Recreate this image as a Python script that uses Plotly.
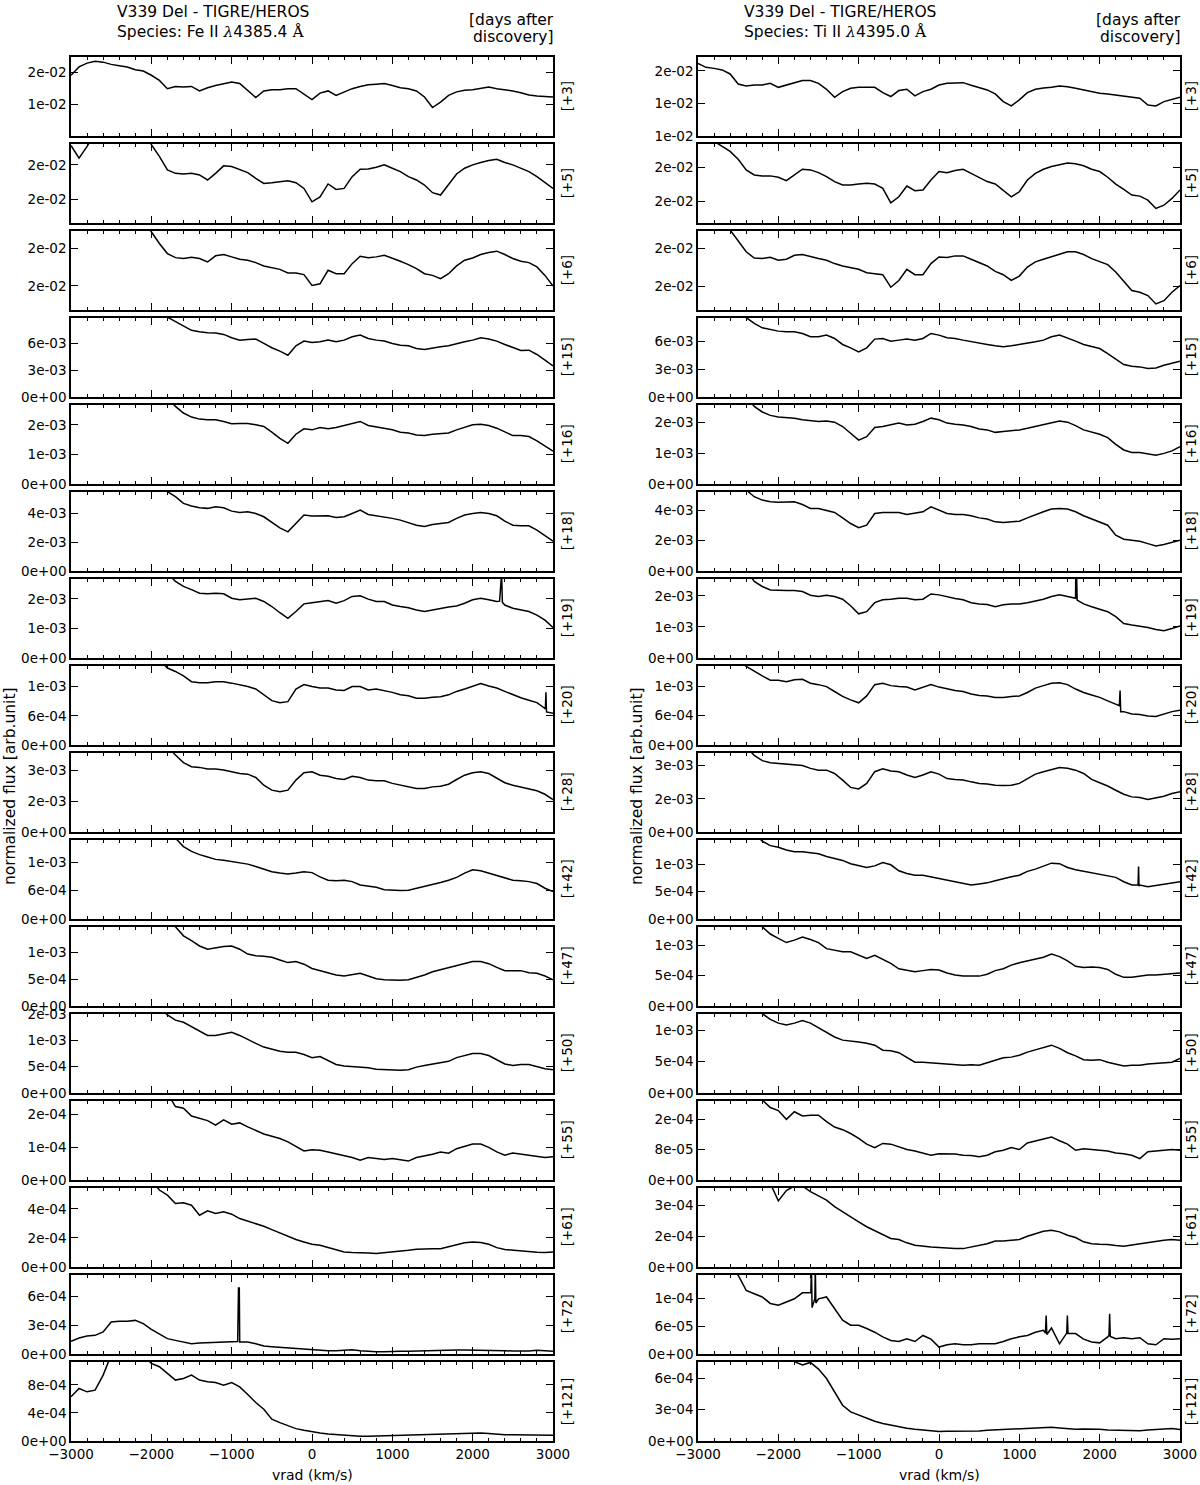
import plotly.graph_objects as go

# radial velocity grid (km/s), shared by every spectrum
VRAD = list(range(-3000, 3001, 100))
DAYS = ["[+3]", "[+5]", "[+6]", "[+15]", "[+16]", "[+18]", "[+19]", "[+20]",
        "[+28]", "[+42]", "[+47]", "[+50]", "[+55]", "[+61]", "[+72]", "[+121]"]

# ---------------- Fe II 4385.4 (left column) ----------------
FE_03 = [19.1, 21.7, 22.9, 23.5, 23.2, 22.5, 22.1, 21.7, 20.8, 20.4,
         19.1, 17.5, 14.9, 15.6, 15.4, 15.6, 14.2, 15.2, 15.9, 16.5,
         17.0, 16.5, 14.4, 12.1, 14.2, 14.6, 14.6, 14.9, 14.9, 13.3,
         11.5, 13.5, 14.2, 12.8, 13.9, 14.9, 15.6, 16.1, 16.3, 16.5,
         15.9, 15.2, 14.9, 14.2, 12.3, 9.0, 10.7, 12.8, 13.9, 14.4,
         14.6, 15.0, 15.4, 14.9, 14.6, 14.2, 13.6, 12.9, 12.6, 12.5,
         12.3]
FE_05 = [214.0, 204.9, 213.3, 223.1, 227.9, 227.9, 227.9, 227.9, 227.9, 227.9,
         214.6, 206.1, 196.4, 193.9, 193.4, 193.9, 192.7, 189.1, 193.9, 199.3,
         198.8, 196.8, 194.4, 190.3, 186.6, 187.1, 187.9, 188.6, 187.1, 183.0,
         173.3, 176.9, 186.2, 182.3, 183.0, 191.5, 196.8, 197.1, 198.3, 200.0,
         197.6, 195.1, 191.5, 189.1, 185.4, 179.9, 178.2, 185.4, 193.4, 197.6,
         200.0, 201.7, 203.2, 204.1, 201.7, 200.0, 197.6, 195.1, 191.5, 187.1,
         183.0]
FE_06 = [220, 220, 220, 220, 220, 220, 220, 220, 220, 220,
         210.9, 203.1, 196.4, 193.7, 193.1, 194.0, 193.1, 190.8, 194.9, 195.8,
         194.2, 192.6, 192.0, 190.4, 188.2, 187.1, 185.9, 183.5, 183.5, 182.4,
         175.2, 176.3, 185.3, 183.0, 183.0, 189.7, 194.6, 193.7, 194.2, 195.3,
         193.5, 191.3, 189.1, 186.4, 183.0, 181.9, 179.7, 183.0, 188.2, 192.0,
         193.5, 195.8, 197.1, 198.0, 195.8, 193.1, 191.3, 190.4, 187.5, 181.9,
         174.8]
FE_15 = [100, 100, 100, 100, 100, 100, 100, 100, 100, 100,
         100, 100, 89.0, 84.0, 78.4, 74.3, 72.8, 71.6, 71.3, 69.8,
         66.0, 63.4, 64.2, 64.6, 59.7, 54.9, 51.1, 46.6, 57.1, 62.3,
         60.8, 61.6, 63.4, 61.6, 63.4, 67.2, 69.0, 65.3, 63.4, 62.3,
         59.7, 57.8, 57.1, 54.1, 53.0, 54.9, 56.0, 57.1, 59.7, 61.6,
         63.4, 66.0, 64.6, 62.3, 58.6, 54.9, 51.9, 52.2, 47.4, 41.0,
         34.7]
FE_16 = [291, 291, 291, 291, 291, 291, 291, 291, 291, 291,
         291, 291, 291, 262.5, 239.8, 226.1, 219.3, 217.0, 217.0, 211.4,
         203.4, 204.5, 204.5, 200.0, 194.3, 175.0, 154.5, 137.5, 168.2, 186.4,
         183.0, 190.9, 186.4, 190.9, 197.7, 205.7, 211.4, 197.7, 193.2, 188.6,
         183.0, 175.0, 172.7, 165.9, 163.6, 168.2, 170.5, 172.7, 183.0, 190.9,
         200.0, 202.3, 197.7, 188.6, 175.0, 163.6, 163.6, 160.2, 145.5, 129.5,
         111.4]
FE_18 = [593, 593, 593, 593, 593, 593, 593, 593, 593, 593,
         593, 593, 547, 513, 466, 448, 436, 432, 443, 436,
         413, 404, 409, 397, 374, 335, 298, 270, 328, 386,
         379, 381, 381, 369, 374, 397, 420, 390, 381, 376,
         363, 351, 333, 316, 307, 321, 328, 335, 363, 386,
         397, 404, 397, 381, 344, 316, 312, 312, 282, 247,
         206]
FE_19 = [287, 287, 287, 287, 287, 287, 287, 287, 287, 287,
         287, 287, 287, 259, 242, 231, 219, 217, 219, 217,
         202, 197, 199, 202, 191, 174, 153, 134, 157, 183,
         187, 190, 194, 185, 194, 208, 210, 199, 191, 191,
         179, 174, 170, 162, 157, 162, 168, 172, 176, 185,
         197, 202, 197, 191, 179, 168, 162, 157, 145, 128,
         103]
FE_20 = [175, 175, 175, 175, 175, 175, 175, 175, 175, 175,
         175, 175, 158, 151, 142, 130, 128, 128, 130, 130,
         127, 124, 120, 115, 103, 91, 87, 89, 115, 124,
         120, 117, 117, 113, 112, 120, 120, 113, 115, 112,
         108, 103, 101, 96, 96, 98, 99, 103, 110, 115,
         120, 126, 121, 117, 110, 103, 97, 92, 87, 75,
         65]
FE_28 = [416, 416, 416, 416, 416, 416, 416, 416, 416, 416,
         416, 416, 416, 375, 338, 318, 315, 307, 307, 302,
         294, 285, 282, 266, 228, 204, 196, 204, 253, 289,
         294, 277, 272, 261, 256, 272, 266, 253, 250, 250,
         237, 228, 220, 212, 212, 220, 223, 233, 256, 277,
         289, 294, 285, 261, 240, 228, 220, 212, 201, 184,
         158]
FE_42 = [182, 182, 182, 182, 182, 182, 182, 182, 182, 182,
         182, 182, 182, 171, 153, 143, 136, 131, 126, 124,
         121, 119, 116, 111, 105, 100, 97, 95, 97, 100,
         98, 89, 82, 81, 82, 79, 72, 70, 67, 62,
         61, 60, 61, 65, 68, 72, 77, 82, 88, 97,
         104, 102, 97, 91, 86, 82, 81, 79, 75, 65,
         58]
FE_47 = [161, 161, 161, 161, 161, 161, 161, 161, 161, 161,
         161, 161, 161, 148, 131, 122, 112, 106, 109, 111,
         112, 106, 97, 94, 93, 91, 86, 81, 83, 78,
         70, 66, 61, 58, 56, 59, 61, 56, 51, 49,
         48, 48, 49, 53, 58, 64, 68, 72, 76, 79,
         83, 83, 79, 72, 66, 66, 66, 62, 61, 56,
         49]
FE_50 = [162, 162, 162, 162, 162, 162, 162, 162, 162, 162,
         162, 162, 148, 138, 134, 126, 117, 109, 109, 112,
         115, 109, 101, 94, 87, 83, 79, 77, 77, 73,
         67, 69, 62, 54, 51, 50, 49, 48, 45, 44,
         43, 43, 44, 49, 52, 55, 57, 60, 67, 71,
         75, 75, 71, 63, 55, 52, 54, 54, 50, 46,
         44]
FE_55 = [266, 266, 266, 266, 266, 266, 266, 266, 266, 266,
         266, 266, 266, 225, 220, 196, 189, 182, 168, 184,
         171, 175, 163, 151, 141, 134, 127, 117, 102, 89,
         93, 91, 86, 81, 76, 69, 61, 69, 66, 63,
         66, 61, 58, 69, 73, 79, 86, 82, 96, 104,
         110, 110, 100, 86, 76, 83, 79, 76, 71, 69,
         71]
FE_61 = [598, 598, 598, 598, 598, 598, 598, 598, 598, 598,
         598, 529, 494, 437, 441, 425, 356, 386, 368, 379,
         363, 333, 315, 299, 280, 257, 234, 212, 189, 172,
         156, 149, 133, 115, 103, 99, 99, 97, 92, 97,
         103, 108, 115, 122, 126, 126, 126, 138, 149, 166,
         172, 168, 156, 133, 120, 115, 110, 103, 101, 99,
         103]
FE_72 = [131, 166, 186, 193, 228, 331, 338, 338, 348, 314,
         255, 210, 159, 141, 124, 107, 114, 117, 124, 124,
         131, 124, 124, 107, 83, 76, 69, 62, 55, 48,
         41, 38, 34, 34, 41, 45, 34, 28, 24, 24,
         28, 28, 28, 31, 31, 34, 34, 38, 41, 41,
         41, 34, 41, 38, 34, 31, 28, 31, 38, 34,
         28]
FE_121 = [629, 748, 700, 724, 938, 1224, 1224, 1224, 1224, 1224,
          1105, 1057, 962, 867, 890, 938, 867, 843, 833, 795,
          833, 771, 662, 548, 452, 310, 262, 214, 176, 152,
          129, 114, 100, 90, 81, 71, 67, 67, 71, 71,
          76, 81, 86, 90, 95, 95, 95, 100, 105, 114,
          119, 114, 105, 95, 90, 90, 90, 86, 81, 81,
          81]

FE_FLUX = [FE_03, FE_05, FE_06, FE_15, FE_16, FE_18, FE_19, FE_20,
           FE_28, FE_42, FE_47, FE_50, FE_55, FE_61, FE_72, FE_121]
FE_SCALE = [1e-3, 1e-4, 1e-4, 1e-4, 1e-5, 1e-5, 1e-5, 1e-5,
            1e-5, 1e-5, 1e-5, 1e-5, 1e-6, 1e-6, 1e-6, 1e-6]
FE_YRANGE = [[0.1, 24.9], [158.0, 215.3], [158.9, 211.6], [0, 88.4],
             [0, 268], [0, 547], [0, 268], [0, 162.8],
             [0, 386.6], [0, 167.6], [0, 148], [0, 150.2],
             [0, 243], [0, 545], [0, 821], [0, 1129]]
FE_TICKS = [[10, 20], [175, 200], [175, 200], [0, 30, 60],
            [0, 100, 200], [0, 200, 400], [0, 100, 200], [0, 60, 120],
            [0, 150, 300], [0, 60, 120], [0, 50, 100], [0, 50, 100, 150],
            [0, 100, 200], [0, 200, 400], [0, 300, 600], [0, 400, 800]]
FE_TICKTEXT = [["1e-02", "2e-02"], ["2e-02", "2e-02"], ["2e-02", "2e-02"],
               ["0e+00", "3e-03", "6e-03"], ["0e+00", "1e-03", "2e-03"],
               ["0e+00", "2e-03", "4e-03"], ["0e+00", "1e-03", "2e-03"],
               ["0e+00", "6e-04", "1e-03"], ["0e+00", "2e-03", "3e-03"],
               ["0e+00", "6e-04", "1e-03"], ["0e+00", "5e-04", "1e-03"],
               ["0e+00", "5e-04", "1e-03", "2e-03"], ["0e+00", "1e-04", "2e-04"],
               ["0e+00", "2e-04", "4e-04"], ["0e+00", "3e-04", "6e-04"],
               ["0e+00", "4e-04", "8e-04"]]
# narrow spikes (vrad, flux) that fall between grid points
FE_SPIKES = {
    6: [(2335, 192), (2345, 285), (2360, 285), (2370, 188)],
    7: [(2905, 74), (2912, 108), (2919, 68)],
    14: [(-925, 130), (-915, 683), (-905, 683)],
}

# ---------------- Ti II 4395.0 (right column) ----------------
TI_03 = [155.9, 152.8, 152.0, 150.8, 147.7, 140.0, 138.5, 139.2, 139.2, 140.5,
         137.4, 139.2, 141.0, 142.6, 142.6, 140.5, 135.9, 129.7, 134.1, 136.7,
         137.4, 137.4, 137.4, 133.3, 130.3, 134.9, 135.9, 130.8, 134.1, 135.9,
         139.2, 140.5, 141.0, 141.0, 139.0, 136.9, 135.4, 132.3, 126.4, 123.1,
         127.7, 133.3, 135.9, 136.9, 137.4, 138.5, 137.9, 136.7, 135.4, 133.8,
         132.8, 132.3, 131.5, 131.0, 130.3, 129.0, 123.8, 123.1, 126.4, 128.2,
         129.7]
TI_05 = [220.3, 220.3, 219.1, 215.3, 211.6, 205.9, 198.0, 194.3, 193.6, 193.6,
         192.6, 190.1, 194.3, 198.5, 198.0, 196.0, 193.1, 189.4, 186.9, 186.9,
         187.6, 188.1, 187.6, 184.4, 173.8, 178.2, 186.1, 182.7, 183.2, 190.6,
         196.8, 196.0, 197.5, 198.5, 195.5, 192.6, 189.4, 187.6, 183.2, 178.2,
         181.9, 190.6, 195.5, 198.5, 200.5, 201.7, 203.0, 202.5, 201.0, 198.5,
         196.8, 192.6, 187.6, 183.7, 179.5, 178.7, 175.7, 169.6, 172.0, 177.0,
         183.2]
TI_06 = [217.9, 217.9, 217.9, 217.9, 212.3, 204.9, 197.8, 193.7, 193.3, 194.2,
         192.2, 192.9, 195.5, 196.0, 194.4, 193.3, 192.2, 190.0, 188.4, 187.1,
         186.2, 183.9, 183.3, 182.6, 174.3, 178.8, 186.2, 182.6, 182.6, 190.0,
         194.4, 194.0, 195.1, 195.1, 192.9, 190.6, 188.4, 184.8, 182.6, 178.8,
         181.7, 187.7, 191.1, 192.9, 194.4, 196.0, 197.8, 197.8, 196.0, 193.3,
         191.1, 189.3, 184.4, 178.1, 172.1, 171.0, 168.8, 163.2, 165.4, 171.0,
         175.4]
TI_15 = [95.7, 95.7, 95.7, 95.7, 95.7, 95.7, 85.6, 79.4, 74.7, 72.6,
         71.1, 70.4, 70.4, 68.6, 65.0, 65.0, 66.8, 63.2, 56.7, 53.1,
         48.7, 53.1, 62.5, 63.2, 60.3, 61.4, 62.5, 61.4, 63.2, 68.6,
         66.8, 63.9, 63.2, 61.4, 59.6, 57.8, 56.7, 55.2, 54.2, 55.2,
         56.7, 57.4, 59.6, 61.4, 65.0, 66.8, 63.9, 60.3, 56.7, 54.2,
         52.3, 46.9, 40.8, 35.0, 33.2, 32.5, 30.7, 31.4, 34.3, 36.8,
         38.6]
TI_16 = [300, 300, 300, 300, 300, 300, 284, 251, 233, 222,
         217, 215, 213, 208, 204, 202, 204, 200, 186, 164,
         142, 153, 183, 186, 191, 197, 191, 193, 202, 213,
         208, 197, 193, 191, 186, 178, 175, 167, 170, 172,
         175, 180, 186, 193, 200, 204, 200, 189, 175, 167,
         161, 150, 128, 110, 102, 102, 98, 93, 99, 107,
         121]
TI_18 = [587, 587, 587, 587, 587, 587, 532, 488, 466, 455,
         451, 455, 455, 437, 411, 411, 400, 385, 349, 312,
         284, 301, 378, 385, 385, 385, 371, 378, 389, 422,
         400, 378, 371, 371, 363, 349, 341, 323, 319, 323,
         327, 349, 371, 389, 407, 411, 407, 389, 363, 341,
         323, 301, 235, 209, 202, 196, 180, 165, 174, 187,
         202]
TI_19 = [284, 284, 284, 284, 284, 284, 284, 246, 230, 219,
         217, 217, 217, 214, 202, 198, 202, 198, 189, 168,
         142, 149, 178, 187, 189, 192, 192, 187, 189, 206,
         203, 196, 191, 187, 178, 174, 172, 165, 171, 174,
         174, 178, 183, 189, 198, 203, 198, 192, 174, 165,
         157, 149, 133, 111, 106, 103, 98, 92, 88, 95,
         103]
TI_20 = [174, 174, 174, 174, 174, 174, 160, 150, 141, 132,
         132, 129, 133, 134, 126, 123, 119, 109, 99, 92,
         86, 100, 123, 126, 121, 119, 118, 112, 118, 123,
         118, 114, 111, 109, 104, 101, 100, 97, 97, 99,
         100, 107, 116, 121, 126, 127, 123, 114, 107, 102,
         97, 90, 82, 68, 63, 62, 59, 58, 63, 68,
         71]
TI_28 = [386, 386, 386, 386, 386, 386, 386, 347, 323, 314,
         311, 308, 305, 301, 288, 280, 280, 265, 235, 202,
         195, 220, 273, 286, 276, 273, 258, 247, 258, 273,
         262, 242, 238, 235, 227, 220, 217, 212, 211, 212,
         220, 242, 262, 273, 283, 292, 289, 280, 265, 238,
         223, 208, 189, 171, 159, 156, 147, 153, 162, 174,
         182]
TI_42 = [157, 157, 157, 157, 157, 157, 157, 157, 142, 134,
         131, 126, 123, 123, 121, 119, 114, 110, 107, 101,
         97, 94, 97, 103, 99, 88, 83, 80, 80, 77,
         74, 70, 67, 64, 62, 64, 66, 70, 74, 77,
         80, 87, 91, 96, 102, 101, 94, 90, 87, 85,
         82, 79, 76, 68, 62, 62, 59, 61, 64, 66,
         68]
TI_47 = [141, 141, 141, 141, 141, 141, 141, 141, 130, 118,
         111, 104, 108, 113, 109, 104, 94, 91, 89, 89,
         83, 78, 83, 76, 70, 61, 58, 56, 58, 60,
         59, 54, 51, 49, 49, 49, 52, 58, 61, 67,
         71, 74, 76, 80, 85, 81, 74, 65, 63, 64,
         63, 60, 52, 47, 47, 49, 51, 51, 52, 53,
         54]
TI_50 = [137, 137, 137, 137, 137, 137, 137, 137, 126, 117,
         111, 108, 111, 115, 111, 104, 97, 89, 84, 83,
         81, 79, 76, 68, 67, 64, 56, 49, 49, 48,
         47, 47, 46, 44, 45, 44, 48, 52, 56, 57,
         60, 65, 69, 73, 76, 71, 64, 59, 53, 52,
         53, 49, 46, 43, 44, 44, 46, 47, 48, 49,
         55]
TI_55 = [227, 227, 227, 227, 227, 227, 227, 227, 210, 190,
         182, 159, 179, 168, 170, 170, 153, 139, 132, 122,
         109, 94, 85, 96, 94, 87, 80, 76, 71, 65,
         69, 69, 68, 65, 64, 61, 65, 74, 78, 85,
         80, 97, 103, 109, 113, 103, 94, 78, 82, 80,
         78, 76, 71, 69, 65, 56, 74, 76, 78, 80,
         78]
TI_61 = [421, 421, 421, 421, 421, 421, 421, 421, 421, 405,
         320, 370, 392, 392, 365, 344, 324, 292, 267, 240,
         219, 195, 175, 154, 138, 133, 117, 105, 100, 97,
         94, 91, 89, 89, 97, 104, 113, 126, 126, 130,
         133, 149, 162, 173, 178, 170, 154, 143, 122, 113,
         110, 109, 104, 100, 107, 113, 117, 125, 130, 133,
         130]
TI_72 = [184, 184, 184, 184, 184, 170, 137, 130, 123, 109,
         105, 112, 119, 132, 132, 119, 123, 98, 73, 62,
         62, 55, 47, 37, 29, 27, 33, 27, 40, 32,
         15, 20, 22, 20, 20, 22, 22, 22, 27, 33,
         37, 40, 47, 51, 56, 22, 47, 44, 32, 26,
         24, 37, 33, 35, 33, 35, 22, 20, 33, 32,
         33]
TI_121 = [824, 824, 824, 824, 824, 824, 824, 824, 824, 824,
          824, 824, 760, 728, 753, 689, 599, 471, 343, 279,
          247, 215, 189, 167, 151, 135, 122, 112, 103, 96,
          90, 93, 93, 96, 90, 96, 103, 106, 112, 112,
          115, 119, 125, 131, 131, 125, 119, 112, 115, 115,
          112, 106, 103, 103, 99, 99, 106, 112, 115, 119,
          109]

TI_FLUX = [TI_03, TI_05, TI_06, TI_15, TI_16, TI_18, TI_19, TI_20,
           TI_28, TI_42, TI_47, TI_50, TI_55, TI_61, TI_72, TI_121]
TI_SCALE = [1e-4, 1e-4, 1e-4, 1e-4, 1e-5, 1e-5, 1e-5, 1e-5,
            1e-5, 1e-5, 1e-5, 1e-5, 1e-6, 1e-6, 1e-6, 1e-6]
TI_YRANGE = [[99.9, 161], [158.9, 217.3], [159.2, 211.8], [0, 85.6],
             [0, 256.5], [0, 521], [0, 255], [0, 161.6],
             [0, 359], [0, 144.8], [0, 130], [0, 126],
             [0, 208], [0, 384], [0, 171], [0, 760]]
TI_TICKS = [[100, 125, 150], [175, 200], [175, 200], [0, 30, 60],
            [0, 100, 200], [0, 200, 400], [0, 100, 200], [0, 60, 120],
            [0, 150, 300], [0, 50, 100], [0, 50, 100], [0, 50, 100],
            [0, 80, 160], [0, 150, 300], [0, 60, 120], [0, 300, 600]]
TI_TICKTEXT = [["1e-02", "1e-02", "2e-02"], ["2e-02", "2e-02"], ["2e-02", "2e-02"],
               ["0e+00", "3e-03", "6e-03"], ["0e+00", "1e-03", "2e-03"],
               ["0e+00", "2e-03", "4e-03"], ["0e+00", "1e-03", "2e-03"],
               ["0e+00", "6e-04", "1e-03"], ["0e+00", "2e-03", "3e-03"],
               ["0e+00", "5e-04", "1e-03"], ["0e+00", "5e-04", "1e-03"],
               ["0e+00", "5e-04", "1e-03"], ["0e+00", "8e-05", "2e-04"],
               ["0e+00", "2e-04", "3e-04"], ["0e+00", "6e-05", "1e-04"],
               ["0e+00", "3e-04", "6e-04"]]
TI_SPIKES = {
    6: [(1703, 290), (1711, 290), (1720, 186)],
    7: [(2245, 80), (2254, 111), (2262, 68)],
    9: [(2478, 62), (2484, 96), (2490, 60)],
    14: [(-1595, 132), (-1588, 190), (-1580, 100), (-1545, 120), (-1540, 190),
         (-1533, 110), (1325, 45), (1334, 83), (1342, 42), (1590, 45),
         (1598, 83), (1606, 44), (2116, 40), (2124, 87), (2132, 38)],
}

W, H = 1200, 1485
FONT = "DejaVu Sans"
COLS = [
    dict(flux=FE_FLUX, scale=FE_SCALE, yr=FE_YRANGE, ticks=FE_TICKS, text=FE_TICKTEXT,
         spikes=FE_SPIKES, x0=71, x1=553, day_dx=14, species="Fe II", lam="4385.4"),
    dict(flux=TI_FLUX, scale=TI_SCALE, yr=TI_YRANGE, ticks=TI_TICKS, text=TI_TICKTEXT,
         spikes=TI_SPIKES, x0=698, x1=1180, day_dx=11, species="Ti II", lam="4395.0"),
]
TOP0, STEP, PH = 56.7, 87.0, 79.3


def py(pix):
    return 1 - pix / H


fig = go.Figure()
layout = dict(width=W, height=H,
              margin=dict(l=0, r=0, t=0, b=0, pad=0, autoexpand=False),
              paper_bgcolor="white", plot_bgcolor="white", showlegend=False,
              font=dict(family=FONT, color="black", size=13.5))
annotations = []

for c, col in enumerate(COLS):
    for i in range(16):
        n = c * 16 + i + 1
        s = col["scale"][i]
        pts = list(zip(VRAD, col["flux"][i])) + col["spikes"].get(i, [])
        pts.sort(key=lambda p: p[0])
        fig.add_trace(go.Scatter(
            x=[p[0] for p in pts], y=[p[1] * s for p in pts],
            mode="lines", line=dict(color="black", width=1.5),
            xaxis=f"x{n}", yaxis=f"y{n}", hoverinfo="skip"))
        top = TOP0 + STEP * i
        bot = top + PH
        last = i == 15
        layout[f"xaxis{n}"] = dict(
            domain=[col["x0"] / W, col["x1"] / W], anchor=f"y{n}",
            range=[-3000, 3000], tick0=0, dtick=1000,
            ticks="inside", ticklen=7, tickwidth=1, tickcolor="black",
            minor=dict(ticks="inside", ticklen=3.5, dtick=200, tickwidth=1, tickcolor="black"),
            showline=True, linecolor="black", linewidth=1.6, mirror="ticks",
            showgrid=False, zeroline=False, showticklabels=last, automargin=False,
            tickfont=dict(size=13.5))
        layout[f"yaxis{n}"] = dict(
            domain=[py(bot), py(top)], anchor=f"x{n}",
            range=[v * s for v in col["yr"][i]],
            tickmode="array", tickvals=[v * s for v in col["ticks"][i]],
            ticktext=col["text"][i], automargin=False,
            ticks="inside", ticklen=7, tickwidth=1, tickcolor="black",
            showline=True, linecolor="black", linewidth=1.6, mirror="ticks",
            showgrid=False, zeroline=False, tickfont=dict(size=13.5))
        annotations.append(dict(
            text=DAYS[i], xref="paper", yref="paper",
            x=(col["x1"] + col["day_dx"]) / W, y=py((top + bot) / 2),
            textangle=-90, showarrow=False, font=dict(size=13.5),
            xanchor="center", yanchor="middle"))

    xl = col["x0"] + 44
    annotations += [
        dict(text="V339 Del - TIGRE/HEROS", xref="paper", yref="paper",
             x=xl / W, y=py(12), xanchor="left", yanchor="middle",
             showarrow=False, font=dict(size=15.5)),
        dict(text=f"Species: {col['species']} "
                  f"<span style='font-family:DejaVu Serif'><i>λ</i></span>{col['lam']} "
                  f"<span style='font-family:DejaVu Serif'>Å</span>",
             xref="paper", yref="paper", x=xl / W, y=py(32),
             xanchor="left", yanchor="middle", showarrow=False, font=dict(size=15.5)),
        dict(text="[days after", xref="paper", yref="paper",
             x=(col["x1"] + 3) / W, y=py(20), xanchor="right", yanchor="middle",
             showarrow=False, font=dict(size=15.5)),
        dict(text="discovery]", xref="paper", yref="paper",
             x=(col["x1"] + 3) / W, y=py(37), xanchor="right", yanchor="middle",
             showarrow=False, font=dict(size=15.5)),
        dict(text="vrad (km/s)", xref="paper", yref="paper",
             x=(col["x0"] + col["x1"]) / 2 / W, y=py(1475),
             xanchor="center", yanchor="middle", showarrow=False, font=dict(size=14)),
        dict(text="normalized flux [arb.unit]", xref="paper", yref="paper",
             x=(col["x0"] - 61) / W, y=py(786), textangle=-90,
             xanchor="center", yanchor="middle", showarrow=False, font=dict(size=15.5)),
    ]

layout["annotations"] = annotations
fig.update_layout(**layout)
# the page body keeps its default 8px margin otherwise, which shifts the figure
fig.write_html("out.html", config={"displayModeBar": False},
               post_script="document.body.style.margin='0';")
